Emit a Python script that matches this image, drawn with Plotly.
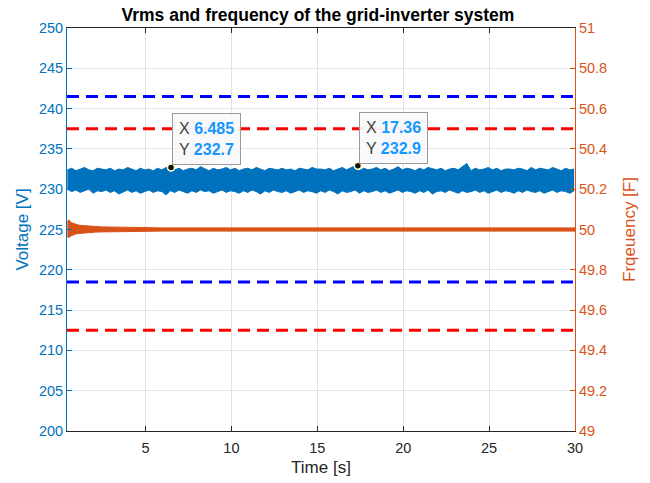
import numpy as np
import plotly.graph_objects as go

# ---------------- data ----------------
t_start, t_step = 0.45, 0.25
v_upper = [
    232.4, 232.6, 232.3, 232.5, 232.7, 232.4, 232.3, 232.6, 232.5, 232.4,
    232.6, 232.3, 232.5, 232.4, 232.7, 232.5, 232.3, 232.6, 232.4, 232.5,
    232.3, 232.6, 232.4, 232.7, 232.7, 232.4, 232.6, 232.3, 232.5, 232.6,
    232.4, 232.8, 232.5, 232.3, 232.6, 232.4, 232.5, 232.7, 232.4, 232.6,
    232.3, 232.5, 232.6, 232.4, 232.7, 232.5, 232.3, 232.6, 232.5, 232.4,
    232.6, 232.4, 232.5, 232.3, 232.6, 232.5, 232.4, 232.7, 232.5, 232.5,
    232.4, 232.6, 232.3, 232.5, 232.7, 232.4, 232.6, 232.9, 232.3, 232.6,
    232.4, 232.5, 232.7, 232.4, 232.6, 232.3, 232.5, 232.8, 232.4, 232.6,
    232.5, 232.3, 232.6, 232.4, 232.7, 232.5, 232.4, 232.6, 232.3, 232.5,
    232.6, 232.4, 232.8, 233.2, 232.3, 232.6, 232.4, 232.5, 232.7, 232.4,
    232.6, 232.3, 232.5, 232.5, 232.4, 232.6, 232.5, 232.3, 232.7, 232.4,
    232.6, 232.5, 232.4, 232.7, 232.5, 232.3, 232.6, 232.4, 232.5,
]
v_lower = [
    230.0, 229.7, 229.9, 229.6, 229.8, 230.0, 229.5, 229.8, 229.7, 229.9,
    229.6, 229.8, 229.4, 229.7, 229.9, 229.6, 229.8, 229.5, 229.7, 229.9,
    229.6, 229.8, 229.7, 229.3, 229.8, 229.6, 229.9, 229.7, 229.5, 229.8,
    229.6, 229.9, 229.7, 229.8, 229.5, 229.7, 229.9, 229.6, 229.8, 229.7,
    229.5, 229.8, 229.6, 229.9, 229.7, 229.4, 229.8, 229.6, 229.9, 229.7,
    229.6, 229.8, 229.5, 229.7, 229.9, 229.6, 229.8, 229.7, 229.5, 229.8,
    229.6, 229.9, 229.7, 229.4, 229.8, 229.6, 229.7, 229.9, 229.5, 229.8,
    229.6, 229.7, 229.9, 229.6, 229.8, 229.5, 229.7, 229.9, 229.6, 229.8,
    229.7, 229.5, 229.8, 229.6, 229.9, 229.4, 229.7, 229.8, 229.6, 229.9,
    229.7, 229.5, 229.8, 229.6, 229.7, 229.9, 229.6, 229.8, 229.5, 229.7,
    229.9, 229.6, 229.8, 229.7, 229.5, 229.8, 229.6, 229.9, 229.7, 229.6,
    229.8, 229.5, 229.7, 229.9, 229.6, 229.8, 229.7, 229.5, 229.8,
]
t_volt = t_start + t_step * np.arange(len(v_upper))

f_time = [0.45, 0.55, 0.65, 0.8, 0.95, 1.1, 1.3, 1.5, 1.8, 2.1, 2.5, 3.0,
          3.5, 4.0, 5.0, 6.0, 8.0, 10.0, 14.0, 18.0, 22.0, 26.0, 30.0]
f_upper = [50.040, 50.048, 50.035, 50.030, 50.026, 50.022, 50.020, 50.018,
           50.016, 50.015, 50.013, 50.012, 50.011, 50.010, 50.009, 50.008,
           50.008, 50.008, 50.008, 50.008, 50.008, 50.008, 50.008]
f_lower = [49.965, 49.960, 49.968, 49.974, 49.978, 49.980, 49.982, 49.984,
           49.985, 49.987, 49.988, 49.989, 49.990, 49.990, 49.991, 49.992,
           49.992, 49.992, 49.992, 49.992, 49.992, 49.992, 49.992]

volt_limits = [241.5, 218.5]      # left axis
freq_limits = [50.5, 49.5]        # right axis
tips_x = [6.485, 17.36]
tips_y = [232.7, 232.9]
x_range = [0.43, 30]
x_ticks = [5, 10, 15, 20, 25, 30]
v_ticks = list(range(200, 251, 5))
f_ticks = [49, 49.2, 49.4, 49.6, 49.8, 50, 50.2, 50.4, 50.6, 50.8, 51]
f_ticklabels = ["49", "49.2", "49.4", "49.6", "49.8", "50", "50.2", "50.4", "50.6", "50.8", "51"]

BLUE = "#0072BD"
ORANGE = "#D95319"
DARK = "#262626"
FONT = "Liberation Sans"

fig = go.Figure()

# voltage band
fig.add_trace(go.Scatter(x=t_volt, y=v_lower, mode="lines",
                         line=dict(color=BLUE, width=1), yaxis="y",
                         showlegend=False, hoverinfo="skip"))
fig.add_trace(go.Scatter(x=t_volt, y=v_upper, mode="lines",
                         line=dict(color=BLUE, width=1), fill="tonexty",
                         fillcolor=BLUE, yaxis="y",
                         showlegend=False, hoverinfo="skip"))
# voltage limits
for v in volt_limits:
    fig.add_trace(go.Scatter(x=x_range, y=[v, v], mode="lines",
                             line=dict(color="#0000FF", width=3, dash="12px,7px"),
                             yaxis="y", showlegend=False, hoverinfo="skip"))
# datatip markers
fig.add_trace(go.Scatter(x=tips_x, y=tips_y, mode="markers",
                         marker=dict(color="#111111", size=7,
                                     line=dict(color="#ffffc8", width=1.5)),
                         yaxis="y", showlegend=False, hoverinfo="skip"))

# frequency band
fig.add_trace(go.Scatter(x=f_time, y=f_lower, mode="lines",
                         line=dict(color=ORANGE, width=1), yaxis="y2",
                         showlegend=False, hoverinfo="skip"))
fig.add_trace(go.Scatter(x=f_time, y=f_upper, mode="lines",
                         line=dict(color=ORANGE, width=1), fill="tonexty",
                         fillcolor=ORANGE, yaxis="y2",
                         showlegend=False, hoverinfo="skip"))
for f in freq_limits:
    fig.add_trace(go.Scatter(x=x_range, y=[f, f], mode="lines",
                             line=dict(color="#FF0000", width=3, dash="12px,7px"),
                             yaxis="y2", showlegend=False, hoverinfo="skip"))

annotations = []
for xv, yv in zip(tips_x, tips_y):
    annotations.append(dict(
        x=xv, y=yv, xref="x", yref="y", xanchor="left", yanchor="bottom",
        xshift=1, yshift=2, showarrow=False, align="left",
        text=(f"<span style='color:#404040'>X</span> <b style='color:#1597ff'>{xv:g}</b><br>"
              f"<span style='color:#404040'>Y</span> <b style='color:#1597ff'>{yv:g}</b>"),
        font=dict(family=FONT, size=16),
        bgcolor="rgba(249,249,252,0.95)", bordercolor="#9a9a9a", borderwidth=1,
        borderpad=6))

fig.update_layout(
    width=650, height=483,
    margin=dict(l=67, r=75, t=28, b=52, autoexpand=False),
    paper_bgcolor="white", plot_bgcolor="white",
    font=dict(family=FONT, size=14, color=DARK),
    title=dict(text="<b>Vrms and frequency of the grid-inverter system</b>",
               x=0.494, xanchor="center", y=1 - 15 / 483, yanchor="middle",
               xref="paper", yref="container",
               font=dict(family=FONT, size=17.5, color="#000000")),
    xaxis=dict(range=x_range, tickvals=x_ticks, ticks="inside", ticklen=5,
               tickcolor=DARK, showline=True, linecolor=DARK, linewidth=1,
               mirror="ticks", showgrid=True, gridcolor="#e1e1e1",
               zeroline=False, tickfont=dict(size=14.5, color=DARK),
               ticklabelstandoff=4, automargin=False,
               title=dict(text="Time [s]", font=dict(size=17, color=DARK),
                          standoff=5)),
    yaxis=dict(range=[200, 250], tickvals=v_ticks, ticks="inside", ticklen=5,
               tickcolor=BLUE, showline=True, linecolor=BLUE, linewidth=1,
               showgrid=True, gridcolor="#dbe9f4", zeroline=False,
               tickfont=dict(size=14.5, color=BLUE), automargin=False,
               title=dict(text="Voltage [V]", font=dict(size=17, color=BLUE),
                          standoff=5)),
    yaxis2=dict(range=[49, 51], tickvals=f_ticks, ticktext=f_ticklabels,
                overlaying="y", side="right", ticks="inside", ticklen=5,
                tickcolor=ORANGE, showline=True, linecolor=ORANGE, linewidth=1,
                showgrid=False, zeroline=False, automargin=False,
                tickfont=dict(size=14.5, color=ORANGE),
                title=dict(text="Frqeuency [F]", font=dict(size=17, color=ORANGE),
                           standoff=16)),
    annotations=annotations,
)

fig.write_html("out.html")
